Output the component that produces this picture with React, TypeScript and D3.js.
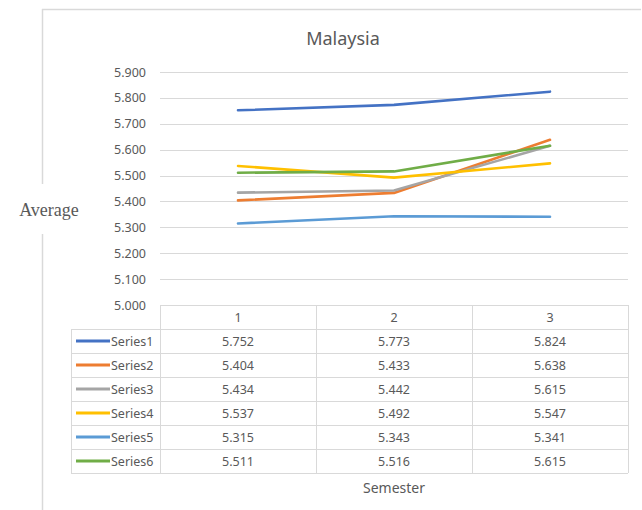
import React from "react";
import * as d3 from "d3";

const categories = ["1", "2", "3"];
const seriesNames = ["Series1", "Series2", "Series3", "Series4", "Series5", "Series6"];
const series1 = [5.752, 5.773, 5.824];
const series2 = [5.404, 5.433, 5.638];
const series3 = [5.434, 5.442, 5.615];
const series4 = [5.537, 5.492, 5.547];
const series5 = [5.315, 5.343, 5.341];
const series6 = [5.511, 5.516, 5.615];
const yTicks = [5.0, 5.1, 5.2, 5.3, 5.4, 5.5, 5.6, 5.7, 5.8, 5.9];
const colors = ["#4472C4", "#ED7D31", "#A5A5A5", "#FFC000", "#5B9BD5", "#70AD47"];

const allSeries = [series1, series2, series3, series4, series5, series6];

export default function App() {
  const W = 642, H = 510;
  const plotL = 160, plotR = 628, plotT = 72, plotB = 305;
  const rowH = 24;
  const tableL = 71;
  const font = "'Noto Sans', sans-serif";
  const textColor = "#595959";
  const grid = "#d9d9d9";

  const x = d3.scaleBand<string>().domain(categories).range([plotL, plotR]);
  const y = d3.scaleLinear().domain([5.0, 5.9]).range([plotB, plotT]);
  const line = d3
    .line<number>()
    .x((_, i) => (x(categories[i]) as number) + x.bandwidth() / 2)
    .y((d) => y(d));

  const tableBottom = plotB + rowH * (allSeries.length + 1);

  return (
    <svg
      width={W}
      height={H}
      style={{ position: "absolute", left: 0, top: 0, background: "#fff" }}
    >
      {/* outer chart border */}
      <line x1={42} y1={9.5} x2={641} y2={9.5} stroke={grid} strokeWidth={1.5} />
      <line x1={42.5} y1={9} x2={42.5} y2={H} stroke={grid} strokeWidth={1.5} />

      <text x={343} y={45} textAnchor="middle" fontFamily={font} fontSize={18} fill={textColor}>
        Malaysia
      </text>

      {/* gridlines */}
      {yTicks.map((t) => (
        <g key={t}>
          <line x1={plotL} x2={plotR} y1={Math.round(y(t)) + 0.5} y2={Math.round(y(t)) + 0.5} stroke={grid} strokeWidth={1} />
          <text x={146} y={y(t) + 4.5} textAnchor="end" fontFamily={font} fontSize={12.5} fill={textColor}>
            {t.toFixed(3)}
          </text>
        </g>
      ))}

      {/* y axis title with white background interrupting border */}
      <rect x={14} y={184} width={72} height={50} fill="#fff" />
      <text x={49} y={216} textAnchor="middle" fontFamily="'Liberation Serif', serif" fontSize={18} fill={textColor}>
        Average
      </text>

      {/* lines */}
      {allSeries.map((s, i) => (
        <path key={i} d={line(s) || ""} fill="none" stroke={colors[i]} strokeWidth={2.6} strokeLinecap="round" strokeLinejoin="round" />
      ))}

      {/* data table */}
      <g>
        {d3.range(allSeries.length + 2).map((r) => {
          const yy = plotB + r * rowH + 0.5;
          return (
            <line key={r} x1={r === 0 ? plotL : tableL} x2={plotR} y1={yy} y2={yy} stroke={grid} strokeWidth={1} />
          );
        })}
        <line x1={tableL + 0.5} x2={tableL + 0.5} y1={plotB + rowH} y2={tableBottom} stroke={grid} />
        {[plotL, ...categories.map((c) => (x(c) as number) + x.bandwidth())].map((xx, i) => (
          <line key={i} x1={xx + 0.5} x2={xx + 0.5} y1={plotB} y2={tableBottom} stroke={grid} />
        ))}
        {categories.map((c) => (
          <text key={c} x={(x(c) as number) + x.bandwidth() / 2} y={plotB + rowH / 2 + 5} textAnchor="middle" fontFamily={font} fontSize={12.5} fill={textColor}>
            {c}
          </text>
        ))}
        {allSeries.map((s, i) => {
          const cy = plotB + rowH * (i + 1) + rowH / 2;
          return (
            <g key={i}>
              <line x1={76} x2={110} y1={cy} y2={cy} stroke={colors[i]} strokeWidth={3} />
              <text x={111} y={cy + 4.5} fontFamily={font} fontSize={12.5} fill={textColor}>
                {seriesNames[i]}
              </text>
              {s.map((v, j) => (
                <text key={j} x={(x(categories[j]) as number) + x.bandwidth() / 2} y={cy + 4.5} textAnchor="middle" fontFamily={font} fontSize={12.5} fill={textColor}>
                  {v.toFixed(3)}
                </text>
              ))}
            </g>
          );
        })}
      </g>

      <text x={394} y={493} textAnchor="middle" fontFamily={font} fontSize={14} fill={textColor}>
        Semester
      </text>
    </svg>
  );
}
